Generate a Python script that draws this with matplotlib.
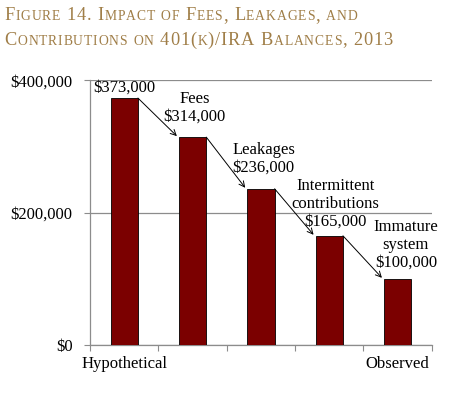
import matplotlib.pyplot as plt
from matplotlib.offsetbox import TextArea, HPacker, VPacker, AnchoredOffsetbox

# data
categories = ['Hypothetical', '', '', '', 'Observed']
values = [373000, 314000, 236000, 165000, 100000]
labels = ['$373,000', 'Fees\n$314,000', 'Leakages\n$236,000',
          'Intermittent\ncontributions\n$165,000', 'Immature\nsystem\n$100,000']
yticks = [0, 200000, 400000]
yticklabels = ['$0', '$200,000', '$400,000']

title_lines = ['Figure 14. Impact of Fees, Leakages, and',
               'Contributions on 401(k)/IRA Balances, 2013']

serif = 'Liberation Serif'
title_color = '#A07E48'
bar_color = '#7B0000'
grid_color = '#8C8C8C'

fig = plt.figure(figsize=(4.55, 3.93), dpi=100)
ax = fig.add_axes([0.198, 0.122, 0.751, 0.674])

x = range(len(values))
width = 0.40
ax.bar(x, values, width, color=bar_color, edgecolor='black', linewidth=0.6, zorder=3)

ax.set_xlim(-0.5, 4.5)
ax.set_ylim(0, 400000)
ax.set_yticks(yticks)
ax.set_yticklabels(yticklabels, fontfamily=serif, fontsize=12)
ax.yaxis.grid(True, color=grid_color, linewidth=0.9, zorder=0)
ax.set_xticks([i - 0.5 for i in range(6)])
ax.set_xticklabels([])
ax.tick_params(axis='x', length=4, color=grid_color)
ax.tick_params(axis='y', length=4, color=grid_color, pad=8.5)
for i, c in enumerate(categories):
    if c:
        ax.text(i, -16000, c, ha='center', va='top', fontfamily=serif, fontsize=12)

for s in ['top', 'right']:
    ax.spines[s].set_visible(False)
for s in ['left', 'bottom']:
    ax.spines[s].set_color(grid_color)
    ax.spines[s].set_linewidth(0.9)

# value labels (offsets in points from the bar top)
label_dx = [0.0, 0.03, 0.04, 0.09, 0.12]
label_dy = [4.5, 12, 12, 7.5, 8.5]
for i, (v, lab) in enumerate(zip(values, labels)):
    ax.annotate(lab, xy=(i + label_dx[i], v), xytext=(0, label_dy[i]),
                textcoords='offset points', ha='center', va='baseline',
                fontfamily=serif, fontsize=12, linespacing=1.15, zorder=4)

# arrows between bars
for i in range(len(values) - 1):
    ax.annotate('', xy=(i + 1 - width / 2 - 0.03, values[i + 1] + 1500),
                xytext=(i + width / 2, values[i]),
                arrowprops=dict(arrowstyle='->', color='black', lw=0.7,
                                shrinkA=0, shrinkB=0), zorder=4)


# small-caps title, letter-spaced
def small_caps(line, big=13.2, small=9.8, spacing=0.6):
    boxes = []
    for ch in line:
        size = small if ch.islower() else big
        boxes.append(TextArea(ch.upper(), textprops=dict(
            fontfamily=serif, fontsize=size, color=title_color)))
    return HPacker(children=boxes, align='baseline', pad=0, sep=spacing)


title_box = VPacker(children=[small_caps(t) for t in title_lines],
                    align='left', pad=0, sep=5.5)
anchored = AnchoredOffsetbox(loc='upper left', child=title_box, pad=0, borderpad=0,
                             frameon=False, bbox_to_anchor=(0.01, 0.983),
                             bbox_transform=fig.transFigure)
fig.add_artist(anchored)

fig.savefig('out.png', dpi=100)
